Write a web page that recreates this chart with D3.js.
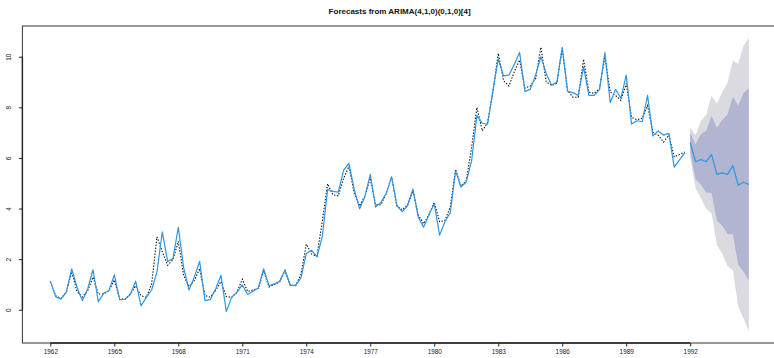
<!DOCTYPE html>
<html>
<head>
<meta charset="utf-8">
<script src="https://cdn.jsdelivr.net/npm/d3@7"></script>
<style>
  html, body { margin: 0; padding: 0; background: #fff; }
  svg { display: block; }
  text { font-family: "Liberation Sans", Arial, Helvetica, sans-serif; }
</style>
</head>
<body>
<svg id="chart" width="774" height="358"></svg>
<script>
// Quarterly series, first observation 1962 Q1
const startYear = 1962;
const frequency = 4;

// Observed values (dotted black line)
const observed = [
  1.12, 0.55, 0.45, 0.70, 1.50, 0.72, 0.50, 0.75, 1.29, 0.62,
  0.62, 0.76, 1.18, 0.42, 0.42, 0.62, 0.95, 0.56, 0.49, 1.02,
  2.88, 2.29, 1.76, 1.98, 2.70, 1.36, 0.92, 1.16, 1.62, 0.56,
  0.50, 0.76, 1.12, 0.52, 0.49, 0.69, 1.21, 0.72, 0.78, 0.84,
  1.53, 0.90, 1.00, 1.10, 1.55, 0.98, 0.95, 1.40, 2.59, 2.20,
  2.12, 3.50, 4.98, 4.54, 4.50, 5.20, 5.67, 4.60, 4.10, 4.50,
  5.20, 4.15, 4.15, 4.60, 5.25, 4.10, 3.95, 4.15, 4.70, 3.75,
  3.40, 3.75, 4.25, 3.48, 3.53, 4.05, 5.55, 4.88, 5.10, 6.41,
  8.00, 7.07, 7.40, 8.60, 10.13, 9.05, 8.84, 9.40, 9.87, 8.76,
  8.84, 9.13, 10.37, 9.00, 8.87, 8.95, 10.33, 8.67, 8.40, 8.40,
  9.90, 8.60, 8.55, 8.75, 10.00, 8.60, 8.47, 8.27, 8.94, 7.61,
  7.51, 7.57, 8.07, 7.01, 6.90, 6.63, 6.90, 6.04, 6.14, 6.23
];

// One-step fitted values (blue line over the history)
const fitted = [
  1.12, 0.52, 0.42, 0.70, 1.62, 0.89, 0.36, 0.82, 1.58, 0.32,
  0.65, 0.76, 1.38, 0.40, 0.41, 0.60, 1.13, 0.15, 0.49, 0.78,
  1.50, 3.08, 1.91, 2.02, 3.26, 1.66, 0.78, 1.29, 1.91, 0.36,
  0.40, 0.82, 1.36, -0.07, 0.49, 0.69, 0.98, 0.60, 0.73, 0.86,
  1.62, 0.95, 1.02, 1.12, 1.56, 0.96, 0.96, 1.26, 2.22, 2.35,
  2.09, 2.89, 4.75, 4.68, 4.65, 5.52, 5.78, 4.75, 3.99, 4.48,
  5.35, 4.06, 4.24, 4.61, 5.25, 4.11, 3.88, 4.11, 4.77, 3.66,
  3.26, 3.75, 4.19, 2.95, 3.48, 3.84, 5.48, 4.85, 5.05, 5.88,
  7.67, 7.37, 7.33, 8.67, 9.91, 9.24, 9.27, 9.69, 10.17, 8.63,
  8.71, 9.27, 10.00, 9.33, 8.87, 9.00, 10.37, 8.63, 8.58, 8.47,
  9.60, 8.47, 8.47, 8.71, 10.16, 8.18, 8.71, 8.36, 9.27, 7.34,
  7.47, 7.43, 8.47, 6.87, 7.07, 6.90, 6.97, 5.64, 5.92, 6.21
];

// Forecasts, 1992 Q1 .. 1994 Q4
const fcMean = [6.61, 5.85, 5.94, 5.85, 6.14, 5.35, 5.41, 5.35, 5.70, 4.92, 5.04, 4.95];
const fcLo80 = [6.22, 5.17, 4.94, 4.63, 4.61, 3.52, 3.32, 2.98, 2.98, 1.78, 1.51, 1.15];
const fcHi80 = [7.00, 6.53, 6.94, 7.07, 7.67, 7.18, 7.50, 7.72, 8.42, 8.06, 8.57, 8.75];
const fcLo95 = [6.01, 4.81, 4.41, 3.99, 3.81, 2.56, 2.22, 1.73, 1.55, 0.13, -0.35, -0.85];
const fcHi95 = [7.21, 6.89, 7.47, 7.71, 8.47, 8.14, 8.60, 8.97, 9.85, 9.71, 10.43, 10.75];

// Axis ticks
const xTicks = [1962, 1965, 1968, 1971, 1974, 1977, 1980, 1983, 1986, 1989, 1992];
const yTicks = [0, 2, 4, 6, 8, 10];

const title = "Forecasts from ARIMA(4,1,0)(0,1,0)[4]";

// ---- build time-indexed records ----
const histTime = i => startYear + i / frequency;
const nHist = observed.length;
const obsPts = observed.map((v, i) => ({ t: histTime(i), v }));
const fitPts = fitted.map((v, i) => ({ t: histTime(i), v }));
const fcPts = fcMean.map((v, i) => ({
  t: histTime(nHist + i), v,
  lo80: fcLo80[i], hi80: fcHi80[i], lo95: fcLo95[i], hi95: fcHi95[i]
}));

// R-style limits: data range padded by 4% on each side
const pad = ([a, b]) => { const d = (b - a) * 0.04; return [a - d, b + d]; };
const tExt = pad([obsPts[0].t, fcPts[fcPts.length - 1].t]);
const vExt = pad(d3.extent([...observed, ...fitted, ...fcLo95, ...fcHi95]));

const plot = { left: 22.4, right: 776.8, top: 26, bottom: 343 };

const x = d3.scaleLinear().domain(tExt).range([plot.left, plot.right]);
const y = d3.scaleLinear().domain(vExt).range([plot.bottom, plot.top]);

const svg = d3.select("#chart");

// Prediction intervals
const area95 = d3.area().x(d => x(d.t)).y0(d => y(d.lo95)).y1(d => y(d.hi95));
const area80 = d3.area().x(d => x(d.t)).y0(d => y(d.lo80)).y1(d => y(d.hi80));
svg.append("path").datum(fcPts).attr("d", area95).attr("fill", "#DADAE0");
svg.append("path").datum(fcPts).attr("d", area80).attr("fill", "#B1B5D2");

const line = d3.line().x(d => x(d.t)).y(d => y(d.v));

// Observed series, dotted
svg.append("path").datum(obsPts).attr("d", line)
  .attr("fill", "none").attr("stroke", "#111").attr("stroke-width", 1.1)
  .attr("stroke-dasharray", "1.4,1.6");

// Fitted values and point forecasts
svg.append("path").datum(fitPts).attr("d", line)
  .attr("fill", "none").attr("stroke", "#2F95E3").attr("stroke-width", 1.2)
  .attr("stroke-linejoin", "round");
svg.append("path").datum(fcPts).attr("d", line)
  .attr("fill", "none").attr("stroke", "#2F95E3").attr("stroke-width", 1.2)
  .attr("stroke-linejoin", "round");

// Plot frame
svg.append("rect")
  .attr("x", plot.left).attr("y", plot.top)
  .attr("width", plot.right - plot.left).attr("height", plot.bottom - plot.top)
  .attr("fill", "none").attr("stroke", "#333").attr("stroke-width", 1);

// Bottom axis
const xAxis = d3.axisBottom(x).tickValues(xTicks).tickFormat(d3.format("d"))
  .tickSizeInner(3.5).tickSizeOuter(0).tickPadding(3);
const gx = svg.append("g").attr("transform", `translate(0,${plot.bottom})`).call(xAxis);
gx.select(".domain").attr("d", `M${x(xTicks[0])},0H${x(xTicks[xTicks.length - 1])}`)
  .attr("stroke", "#222").attr("stroke-width", 1.4);
gx.selectAll(".tick line").attr("stroke", "#222");
gx.selectAll(".tick text").attr("font-size", 6.4).attr("fill", "#222")
  .attr("font-family", "Liberation Sans, Arial, sans-serif");

// Left axis, labels rotated parallel to the axis
const yAxis = d3.axisLeft(y).tickValues(yTicks).tickFormat(d3.format("d"))
  .tickSizeInner(3.5).tickSizeOuter(0);
const gy = svg.append("g").attr("transform", `translate(${plot.left},0)`).call(yAxis);
gy.select(".domain").attr("d", `M0,${y(yTicks[0])}V${y(yTicks[yTicks.length - 1])}`)
  .attr("stroke", "#222").attr("stroke-width", 1.4);
gy.selectAll(".tick line").attr("stroke", "#222");
gy.selectAll(".tick text")
  .attr("font-size", 6.4).attr("fill", "#222")
  .attr("font-family", "Liberation Sans, Arial, sans-serif")
  .attr("x", null).attr("dy", null)
  .attr("text-anchor", "middle")
  .attr("transform", "translate(-11,0) rotate(-90)")
  .attr("y", 0);

// Title
svg.append("text")
  .attr("x", (plot.left + plot.right) / 2).attr("y", 13.5)
  .attr("text-anchor", "middle")
  .attr("font-size", 8).attr("font-weight", "bold").attr("fill", "#111")
  .text(title);
</script>
</body>
</html>
